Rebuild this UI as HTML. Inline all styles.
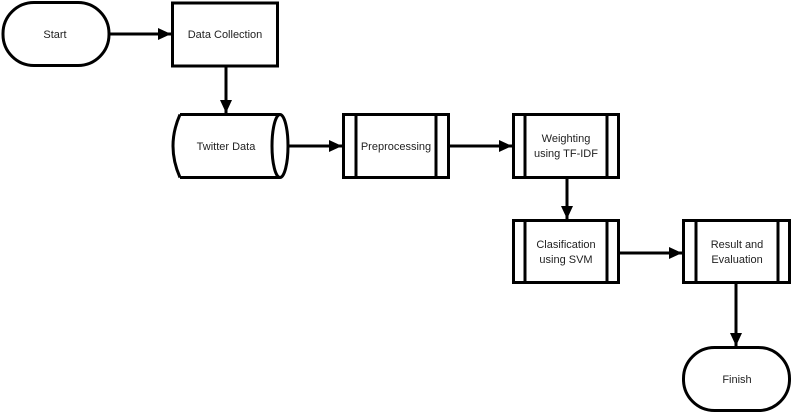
<!DOCTYPE html>
<html><head><meta charset="utf-8"><style>
html,body{margin:0;padding:0;background:#fff;}
svg{display:block;}
text{font-family:"Liberation Sans",sans-serif;font-size:11px;fill:#222;text-anchor:middle;}
</style></head><body>
<svg width="792" height="414" viewBox="0 0 792 414" xmlns="http://www.w3.org/2000/svg">
<defs>
<marker id="a" markerWidth="14" markerHeight="12" refX="13" refY="6" orient="auto" markerUnits="userSpaceOnUse">
<path d="M0,0 L13,6 L0,12 z" fill="#000"/>
</marker>
</defs>
<g fill="#fff" stroke="#000" stroke-width="3">
<rect x="3" y="2.5" width="106" height="63" rx="31" ry="31"/>
<rect x="172.5" y="3" width="105" height="63"/>
<path d="M180,114.5 L280,114.5 M180,177.5 L280,177.5 M180,114.5 Q166,146 180,177.5"/>
<ellipse cx="280" cy="146" rx="8" ry="31.5"/>
<rect x="343.5" y="114.5" width="105" height="63"/>
<path d="M356,114.5 V177.5 M436,114.5 V177.5"/>
<rect x="513.5" y="114.5" width="105" height="63"/>
<path d="M525,114.5 V177.5 M607,114.5 V177.5"/>
<rect x="513.5" y="220.5" width="105" height="62"/>
<path d="M525,220.5 V282.5 M607,220.5 V282.5"/>
<rect x="683.5" y="220.5" width="106" height="62"/>
<path d="M696,220.5 V282.5 M778,220.5 V282.5"/>
<rect x="683.5" y="347.5" width="106" height="63" rx="31" ry="31"/>
</g>
<g stroke="#000" stroke-width="3" fill="none">
<line x1="109" y1="34" x2="171" y2="34" marker-end="url(#a)"/>
<line x1="226" y1="66" x2="226" y2="113" marker-end="url(#a)"/>
<line x1="288" y1="146" x2="342" y2="146" marker-end="url(#a)"/>
<line x1="449" y1="146" x2="512" y2="146" marker-end="url(#a)"/>
<line x1="567" y1="178" x2="567" y2="219" marker-end="url(#a)"/>
<line x1="619" y1="253" x2="682" y2="253" marker-end="url(#a)"/>
<line x1="736" y1="283" x2="736" y2="346" marker-end="url(#a)"/>
</g>
<text x="55" y="38">Start</text>
<text x="225" y="38">Data Collection</text>
<text x="226" y="150">Twitter Data</text>
<text x="396" y="150">Preprocessing</text>
<text x="566" y="142">Weighting</text>
<text x="566" y="157">using TF-IDF</text>
<text x="566" y="248">Clasification</text>
<text x="566" y="263">using SVM</text>
<text x="737" y="248">Result and</text>
<text x="737" y="263">Evaluation</text>
<text x="737" y="383">Finish</text>
</svg>
</body></html>
